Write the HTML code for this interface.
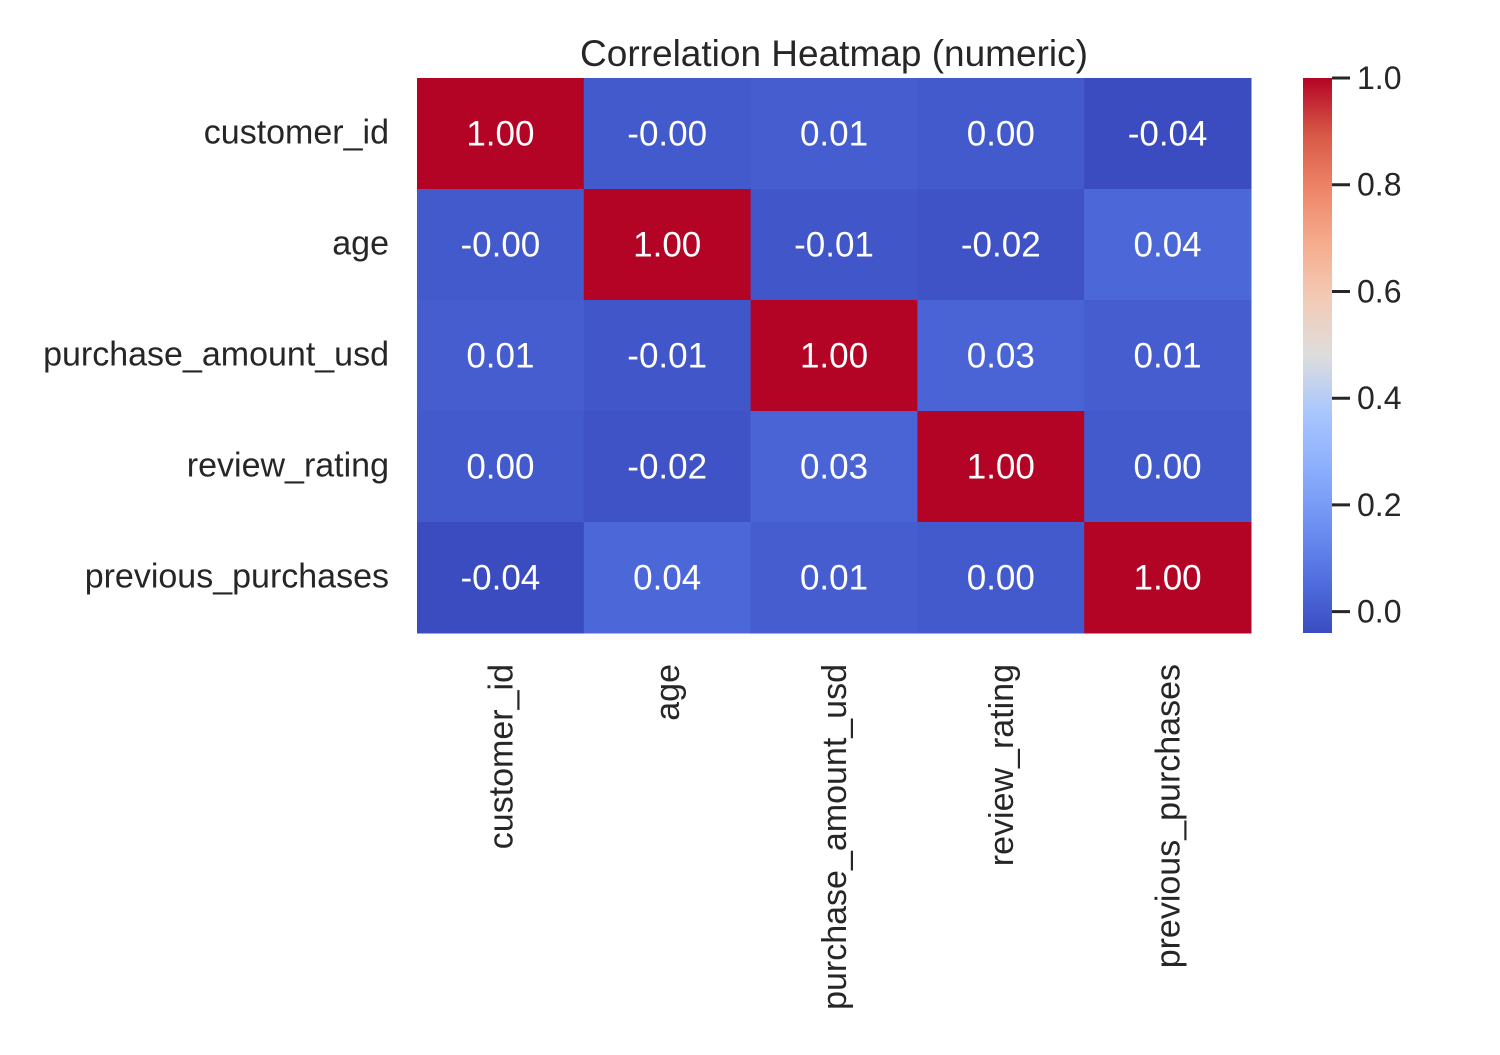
<!DOCTYPE html>
<html><head><meta charset="utf-8"><style>
body{margin:0;background:#fff}
svg text{font-family:"Liberation Sans",sans-serif;fill:#262626}
</style></head><body>
<svg id="c" width="1500" height="1050" xmlns="http://www.w3.org/2000/svg">
<defs><linearGradient id="cg" x1="0" y1="1" x2="0" y2="0"></linearGradient></defs>
<text x="834" y="66" font-size="37" text-anchor="middle">Correlation Heatmap (numeric)</text>
</svg>
<script>
const labels=["customer_id","age","purchase_amount_usd","review_rating","previous_purchases"];
const matrix=[
[1.00,-0.001,0.01,0.00,-0.04],
[-0.001,1.00,-0.01,-0.02,0.04],
[0.01,-0.01,1.00,0.03,0.01],
[0.00,-0.02,0.03,1.00,0.00],
[-0.04,0.04,0.01,0.00,1.00]];
const cbTicks=[0.0,0.2,0.4,0.6,0.8,1.0];
const vmin=-0.04,vmax=1.0;
const stops=[[58,76,192],[82,112,223],[111,146,243],[141,175,253],[170,199,253],[221,221,221],[242,203,183],[246,172,142],[238,133,104],[215,87,69],[180,4,38]];
function cmap(v){let t=Math.max(0,Math.min(1,(v-vmin)/(vmax-vmin)))*10;let i=Math.min(9,Math.floor(t)),f=t-i;
const c=stops[i].map((a,k)=>Math.round(a+(stops[i+1][k]-a)*f));return `rgb(${c})`;}
const svg=document.getElementById('c'),NS="http://www.w3.org/2000/svg";
function el(n,a,p){const e=document.createElementNS(NS,n);for(const k in a)e.setAttribute(k,a[k]);(p||svg).appendChild(e);return e;}
const X0=417,Y0=78,W=(1251-417)/5,H=(633-78)/5;
matrix.forEach((row,r)=>row.forEach((v,c)=>{
 const rc=el('rect',{x:X0+c*W,y:Y0+r*H,width:W+0.5,height:H+0.5,fill:cmap(v)});
 
 
 const t=el('text',{x:X0+(c+0.5)*W,y:Y0+(r+0.5)*H+12,'font-size':35,'text-anchor':'middle',style:'fill:#fff'});
 
 
 t.textContent=(Math.abs(v)<0.005?(v<0?"-0.00":"0.00"):v.toFixed(2));
}));
labels.forEach((l,i)=>{
 const t=el('text',{x:389,y:Y0+(i+0.5)*H+10,'font-size':34,'text-anchor':'end'});
 
 
 t.textContent=l;
 const cx=X0+(i+0.5)*W+12;
 const u=el('text',{x:0,y:0,'font-size':34,'text-anchor':'end',transform:`translate(${cx},664) rotate(-90)`});
 
 
 u.textContent=l;
});
const g=document.getElementById('cg');
for(let i=0;i<=20;i++){const v=vmin+(vmax-vmin)*i/20;el('stop',{offset:i/20,'stop-color':cmap(v)},g);}
const cbX=1303,cbW=29,cbT=78,cbB=633;
const cb=el('rect',{x:cbX,y:cbT,width:cbW,height:cbB-cbT,fill:'url(#cg)'});


const cy=v=>cbB-(v-vmin)/(vmax-vmin)*(cbB-cbT);
cbTicks.forEach(v=>{
 const y=cy(v);
 const ln=el('line',{x1:cbX+cbW,x2:cbX+cbW+18,y1:y,y2:y,stroke:'#262626','stroke-width':3});
 
 
 const t=el('text',{x:1357,y:y+11,'font-size':32});
 
 
 t.textContent=v.toFixed(1);
});
</script>
</body></html>
